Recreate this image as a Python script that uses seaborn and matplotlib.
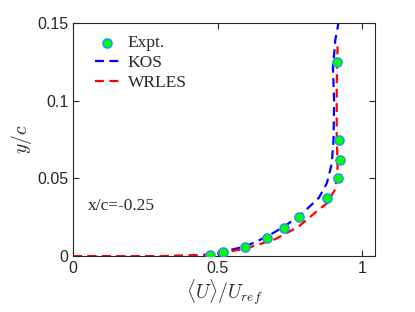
import numpy as np
import pandas as pd
import matplotlib
matplotlib.use('Agg')
import matplotlib.pyplot as plt
import seaborn as sns

# experimental points
expt_u = [0.474, 0.520, 0.595, 0.670, 0.730, 0.782, 0.878, 0.918, 0.924, 0.920, 0.912]
expt_y = [0.001, 0.0024, 0.006, 0.012, 0.018, 0.025, 0.0375, 0.050, 0.062, 0.075, 0.125]

# KOS profile
kos_u = [0.0, 0.30, 0.40, 0.45, 0.50, 0.60, 0.67, 0.73, 0.79, 0.85, 0.878, 0.895, 0.901, 0.903, 0.899, 0.907, 0.918]
kos_y = [0.0, 0.0, 0.0003, 0.0008, 0.002, 0.0065, 0.0125, 0.019, 0.027, 0.0375, 0.047, 0.0595, 0.075, 0.100, 0.121, 0.139, 0.150]

# WRLES profile
wrles_u = [0.0, 0.30, 0.45, 0.50, 0.60, 0.70, 0.78, 0.855, 0.878, 0.907, 0.915, 0.912, 0.912, 0.915]
wrles_y = [0.0, 0.0, 0.0006, 0.0015, 0.005, 0.011, 0.019, 0.0307, 0.034, 0.043, 0.0575, 0.079, 0.111, 0.135]

sns.set_theme(style="ticks")
plt.rcParams['font.family'] = ['Liberation Sans', 'DejaVu Sans']
plt.rcParams['mathtext.fontset'] = 'cm'

fig = plt.figure(figsize=(4.15, 3.12), dpi=100)
ax = fig.add_axes([0.176, 0.179, 0.728, 0.747])

kos = pd.DataFrame({'u': kos_u, 'y': kos_y})
wr = pd.DataFrame({'u': wrles_u, 'y': wrles_y})
ex = pd.DataFrame({'u': expt_u, 'y': expt_y})

sns.lineplot(data=kos, x='u', y='y', sort=False, estimator=None, ax=ax,
             color='#0000ff', lw=1.6, linestyle=(0, (4, 2.5)), label='KOS', zorder=2)
sns.lineplot(data=wr, x='u', y='y', sort=False, estimator=None, ax=ax,
             color='#ff0000', lw=1.6, linestyle=(0, (4, 2.5)), label='WRLES', zorder=3)
sns.scatterplot(data=ex, x='u', y='y', ax=ax, color='#00ff00', edgecolor='#1e90ff',
                linewidth=1.0, s=44, label='Expt.', zorder=4)

ax.set_xlim(0, 1.045)
ax.set_ylim(0, 0.15)
ax.set_xticks([0, 0.5, 1])
ax.set_xticklabels(['0', '0.5', '1'])
ax.set_yticks([0, 0.05, 0.1, 0.15])
ax.set_yticklabels(['0', '0.05', '0.1', '0.15'])
ax.tick_params(direction='in', top=True, right=True, labelsize=11.5, length=4, width=0.8, color='#262626')
for s in ax.spines.values():
    s.set_linewidth(0.8)
    s.set_color('#262626')
ax.set_xlabel(r'$\langle U\rangle/U_{ref}$', fontsize=14, labelpad=1)
ax.set_ylabel(r'$y/c$', fontsize=14, labelpad=2)

ax.text(0.052, 0.032, 'x/c=-0.25', fontsize=12.5, va='center',
        family=['Liberation Serif', 'DejaVu Serif'])

h, l = ax.get_legend_handles_labels()
order = [2, 0, 1]
ax.legend([h[i] for i in order], [l[i] for i in order], loc='upper left', frameon=False,
          prop={'family': ['Liberation Serif', 'DejaVu Serif'], 'size': 12.5},
          handlelength=1.45, handletextpad=0.45, labelspacing=0.22,
          bbox_to_anchor=(0.02, 1.015))

fig.savefig('out.png', dpi=100)
